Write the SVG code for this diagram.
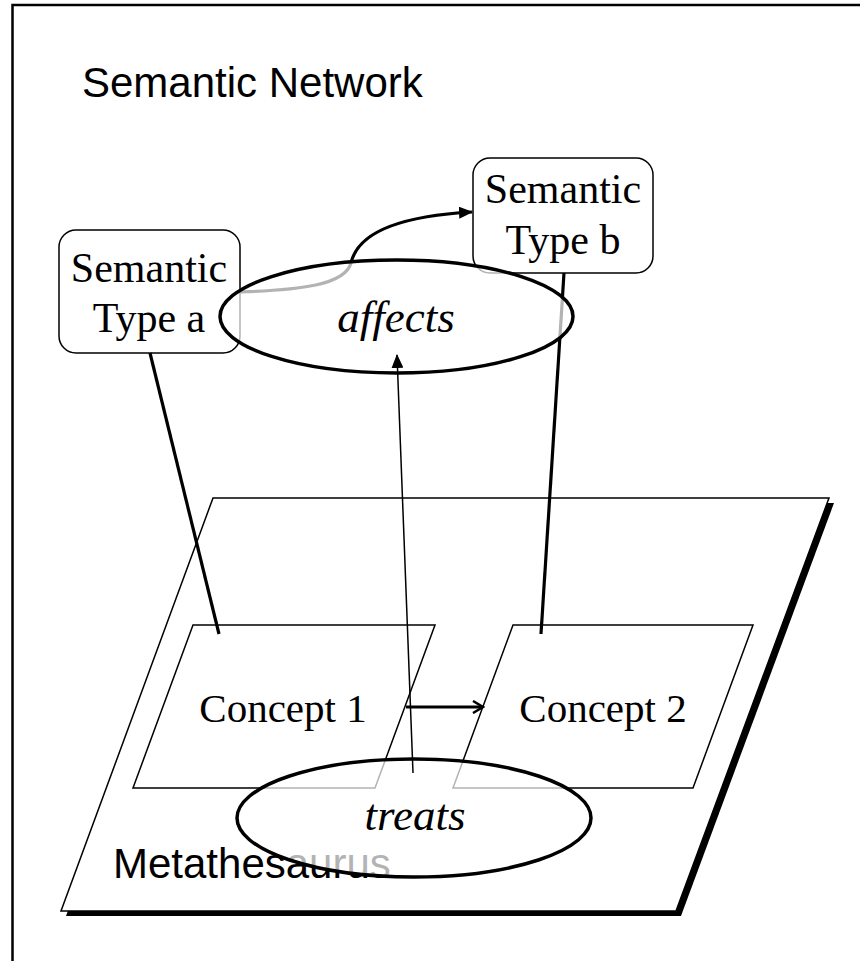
<svg xmlns="http://www.w3.org/2000/svg" width="860" height="961" viewBox="0 0 860 961">
<defs>
<style>
.sans{font-family:"Liberation Sans",Arial,sans-serif;fill:#000}
.serif{font-family:"Liberation Serif","Times New Roman",serif;fill:#000}
.it{font-style:italic}
.thin{fill:none;stroke:#000;stroke-width:1.5}
.thick{fill:none;stroke:#000;stroke-width:3.2}
</style>
<marker id="tri" markerWidth="14" markerHeight="12" refX="13" refY="6" orient="auto" markerUnits="userSpaceOnUse">
<path d="M0,0 L14,6 L0,12 Z" fill="#000"/>
</marker>
<marker id="chev" markerWidth="14" markerHeight="14" refX="12" refY="7" orient="auto" markerUnits="userSpaceOnUse">
<path d="M2,1 L12,7 L2,13" fill="none" stroke="#000" stroke-width="2.5"/>
</marker>
</defs>
<rect width="860" height="961" fill="#fff"/>
<path d="M12.5,961 V5 H860" fill="none" stroke="#000" stroke-width="2.5"/>
<text class="sans" x="82" y="97" font-size="42">Semantic Network</text>

<g id="metathesaurus">
<polygon points="218,503 834,503 681,916 66,916" fill="#000"/>
<polygon points="213,498 829,498 676,911 61,911" fill="#fff" stroke="#000" stroke-width="1.5"/>
<text class="sans" x="113" y="878" font-size="42">Metathesaurus</text>
</g>

<g id="concept1">
<polygon points="193,625 435,625 375,788 133,788" fill="#fff" stroke="#000" stroke-width="1.5"/>
<text class="serif" x="283" y="722" font-size="41" text-anchor="middle">Concept 1</text>
</g>
<g id="concept2">
<polygon points="513,625 753,625 693,788 453,788" fill="#fff" stroke="#000" stroke-width="1.5"/>
<text class="serif" x="603" y="722" font-size="41" text-anchor="middle">Concept 2</text>
</g>

<g id="typeA">
<rect x="59" y="230" width="181" height="123" rx="17" fill="#fff" stroke="#000" stroke-width="1.5"/>
<text class="serif" x="149" y="282" font-size="42" text-anchor="middle">Semantic</text>
<text class="serif" x="149" y="332" font-size="42" text-anchor="middle">Type a</text>
</g>
<g id="typeB">
<rect x="473" y="158" width="180" height="115" rx="17" fill="#fff" stroke="#000" stroke-width="1.5"/>
<text class="serif" x="563" y="203" font-size="42" text-anchor="middle">Semantic</text>
<text class="serif" x="563" y="254" font-size="42" text-anchor="middle">Type b</text>
</g>

<g id="connectors">
<line class="thick" x1="150" y1="353" x2="219" y2="634"/>
<line class="thick" x1="564" y1="273" x2="541" y2="634"/>
<path class="thick" d="M240,292 C300,290 345,285 351,263 C358,232 400,216 472,212" marker-end="url(#tri)"/>
<line class="thick" x1="406" y1="707" x2="483" y2="707" marker-end="url(#chev)"/>
</g>

<g id="affects">
<ellipse cx="396.5" cy="316.5" rx="176.5" ry="56.5" fill="#fff" fill-opacity="0.7" stroke="#000" stroke-width="3.5"/>
<text class="serif it" x="396" y="332" font-size="45" text-anchor="middle">affects</text>
</g>
<g id="treats">
<ellipse cx="414" cy="818" rx="177" ry="59" fill="#fff" fill-opacity="0.7" stroke="#000" stroke-width="3.5"/>
<text class="serif it" x="415" y="830" font-size="45" text-anchor="middle">treats</text>
</g>

<g id="connectors-top">
<line class="thin" x1="413" y1="773" x2="397" y2="355" marker-end="url(#tri)"/>
</g>
</svg>
